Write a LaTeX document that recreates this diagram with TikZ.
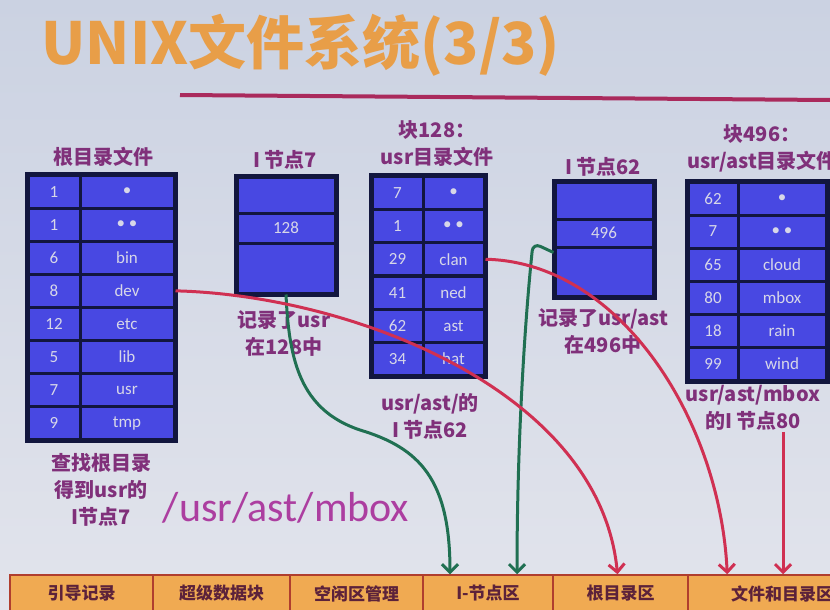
\documentclass[tikz,border=0pt]{standalone}
\usepackage{fontspec}
\setmainfont{Carlito}
\newfontfamily\cjk{Noto Sans CJK SC}
\usetikzlibrary{arrows.meta,positioning,calc}
\definecolor{slidetop}{RGB}{203,210,226}
\definecolor{slidebot}{RGB}{226,228,236}
\definecolor{navy}{RGB}{18,22,62}
\definecolor{cellblue}{RGB}{72,72,226}
\definecolor{celltxt}{RGB}{215,215,232}
\definecolor{lblpurple}{RGB}{128,48,122}
\definecolor{pathpink}{RGB}{172,62,160}
\definecolor{titleorange}{RGB}{232,158,72}
\definecolor{titleline}{RGB}{170,42,92}
\definecolor{barorange}{RGB}{240,170,82}
\definecolor{barline}{RGB}{176,62,46}
\definecolor{bartxt}{RGB}{92,34,58}
\definecolor{arrred}{RGB}{208,48,82}
\definecolor{arrgreen}{RGB}{32,112,82}

\begin{document}
\begin{tikzpicture}[
  x=1pt,y=-1pt,
  cell/.style={draw=navy,line width=3pt,fill=cellblue,text=celltxt,
    font=\fontsize{17}{17}\selectfont,inner sep=0pt,minimum height=33pt},
  lbl/.style={text=lblpurple,font=\cjk\bfseries\fontsize{20}{27}\selectfont,
    align=center,inner sep=1pt},
  barcell/.style={draw=barline,line width=1.5pt,fill=barorange,text=bartxt,
    font=\cjk\bfseries\fontsize{17}{17}\selectfont,minimum height=37pt,inner sep=0pt},
  redarrow/.style={draw=arrred,line width=3pt,-{Straight Barb[length=8pt,width=16pt]}},
  greenarrow/.style={draw=arrgreen,line width=3pt,-{Straight Barb[length=8pt,width=16pt]}},
]

\shade[top color=slidetop,bottom color=slidebot] (0,0) rectangle (830,610);
\useasboundingbox (0,0) rectangle (830,610);

% title
\node[text=titleorange,font=\cjk\bfseries\fontsize{58}{58}\selectfont,anchor=west]
  (title) at (38,45) {UNIX文件系统(3/3)};
\draw[titleline,line width=4pt] (180,95) -- (830,100);

% root directory file
\foreach \n/\f [count=\i] in {1/•,1/• •,6/bin,8/dev,12/etc,5/lib,7/usr,9/tmp} {
  \node[cell,minimum width=52pt] (rn\i) at (54,{175+33.1*(\i-0.5)}) {\n};
  \node[cell,minimum width=94pt] (rf\i) at (127,{175+33.1*(\i-0.5)}) {\f};
}
\draw[navy,line width=4pt] (rn1.north west) rectangle (rf8.south east);
\node[lbl] (rootlbl) at (103,157) {根目录文件};

% i-node 7
\node[cell,minimum width=98pt,minimum height=36pt] (ia) at (286,195) {};
\node[cell,minimum width=98pt,minimum height=30pt] (ib) at (286,228) {128};
\node[cell,minimum width=98pt,minimum height=50pt] (ic) at (286,268) {};
\draw[navy,line width=4pt] (ia.north west) rectangle (ic.south east);
\node[lbl] (ilbl) at (285,160) {I 节点7};
\node[lbl] (rec7) at (284,333) {记录了usr\\在128中};

% block 128
\foreach \n/\f [count=\i] in {7/•,1/• •,29/clan,41/ned,62/ast,34/hat} {
  \node[cell,minimum width=51pt] (bn\i) at (397.5,{176+33.3*(\i-0.5)}) {\n};
  \node[cell,minimum width=61pt] (bf\i) at (453.5,{176+33.3*(\i-0.5)}) {\f};
}
\draw[navy,line width=4pt] (bn1.north west) rectangle (bf6.south east);
\node[lbl] (blbl) at (437,144) {块128：\\usr目录文件};
\node[lbl] (ast62) at (430,416) {usr/ast/的\\I 节点62};

% i-node 62
\node[cell,minimum width=98pt,minimum height=37pt] (ja) at (604,200.5) {};
\node[cell,minimum width=98pt,minimum height=28pt] (jb) at (604,233) {496};
\node[cell,minimum width=98pt,minimum height=49pt] (jc) at (604,271.5) {};
\draw[navy,line width=4pt] (ja.north west) rectangle (jc.south east);
\node[lbl] (jlbl) at (603,167) {I 节点62};
\node[lbl] (rec62) at (603,331) {记录了usr/ast\\在496中};

% block 496
\foreach \n/\f [count=\i] in {62/•,7/• •,65/cloud,80/mbox,18/rain,99/wind} {
  \node[cell,minimum width=50pt] (cn\i) at (713,{182+33*(\i-0.5)}) {\n};
  \node[cell,minimum width=88pt] (cf\i) at (782,{182+33*(\i-0.5)}) {\f};
}
\draw[navy,line width=4pt] (cn1.north west) rectangle (cf6.south east);
\node[lbl] (clbl) at (762,148) {块496：\\usr/ast目录文件};
\node[lbl] (mbox80) at (753,408) {usr/ast/mbox\\的I 节点80};

% lookup notes
\node[lbl] (findlbl) at (101,490) {查找根目录\\得到usr的\\I节点7};
\node[text=pathpink,font=\fontsize{42}{42}\selectfont] (path) at (286,508) {/usr/ast/mbox};

% disk layout
\foreach \c/\w/\t [count=\i] in {81.5/143/引导记录,221.5/137/超级数据块,356.5/133/空闲区管理,
    488/130/I-节点区,620.5/135/根目录区,782/188/文件和目录区} {
  \node[barcell,minimum width=\w pt] (bar\i) at (\c,593.5) {\t};
}

% lookups
\draw[greenarrow] (ic.south) .. controls (289,360) and (300,410) .. (360,430)
  .. controls (420,448) and (450,480) .. ([xshift=-38]bar4.north);
\draw[greenarrow,rounded corners=8pt] ([yshift=-4]jb.south west) -- (533,243)
  .. controls (524,330) and (517,450) .. ([xshift=29]bar4.north);
\draw[redarrow] (rf4.east) .. controls (350,295) and (600,390) .. ([xshift=-3]bar5.north);
\draw[redarrow] (bf3.east) .. controls (620,262) and (720,420) .. ([xshift=40]bar6.north west);
\draw[redarrow] ([xshift=30]mbox80.south) -- ([xshift=30]mbox80.south |- bar6.north);

\end{tikzpicture}
\end{document}
